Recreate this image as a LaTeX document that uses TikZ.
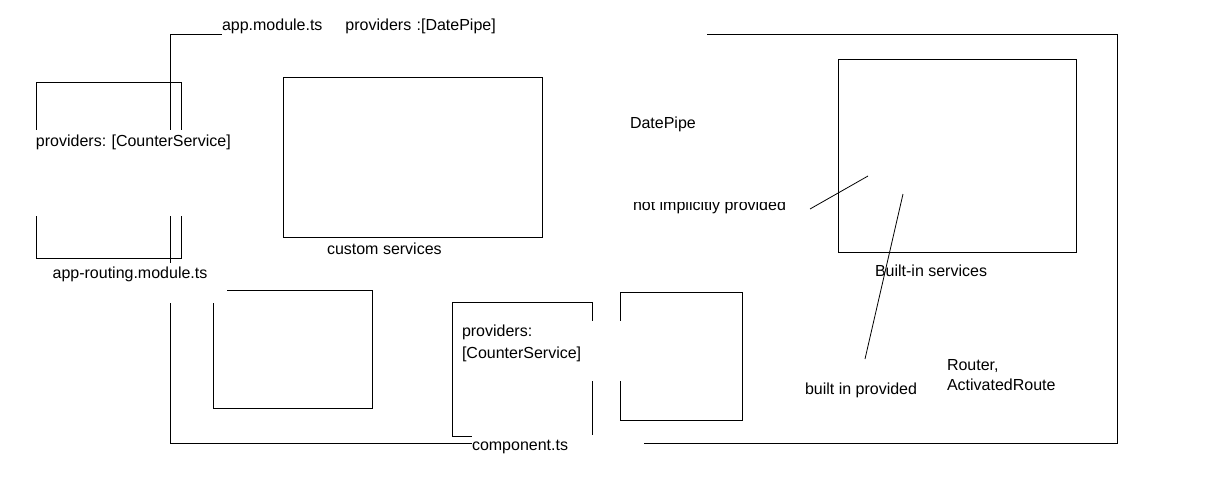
\documentclass[tikz,border=0pt]{standalone}
\usepackage{fontspec}
\setmainfont{Liberation Sans}
\usetikzlibrary{positioning}
\frenchspacing

\begin{document}
\begin{tikzpicture}[x=0.75pt, y=-0.75pt,
                    every node/.style={font=\fontsize{12}{15}\selectfont, outer sep=0pt},
                    box/.style={draw, line width=0.75pt, anchor=north west, inner sep=0pt},
                    txt/.style={inner sep=0pt, anchor=base west},
                    cover/.style={fill=white, inner sep=0pt, anchor=base west},
                    link/.style={line width=0.6pt}]
\useasboundingbox (0,0) rectangle (1214,476);

% frames
\node[box, minimum width=710.25pt, minimum height=307.125pt] (appmod) at (170,34) {};
\node[box, minimum width=108.75pt, minimum height=132pt] (routing) at (36,82) {};
\node[box, minimum width=194.25pt, minimum height=120pt] (custom) at (283,77) {};
\node[box, minimum width=119.25pt, minimum height=88.5pt] (svcbox) at (213,290) {};
\node[box, minimum width=105pt, minimum height=100.5pt] (comp) at (452,302) {};
\node[box, minimum width=91.5pt, minimum height=96pt] (compview) at (620,292) {};
\node[box, minimum width=178.5pt, minimum height=144.75pt] (builtin) at (838,59) {};

% plain labels
\node[txt, below right=4.1pt and 33pt of custom.south west] (customlbl) {custom services};
\node[txt, below right=9.3pt and 27.75pt of builtin.south west] (builtinlbl) {Built-in services};
\node[txt, anchor=north west, align=left] (routerlbl) at (947,359) {Router,\\ActivatedRoute};
\node[txt] (builtprov) at (805,394) {built in provided};
\node[txt] (notprov) at (633,210) {not implicitly provided};

% connectors
\coordinate (np0) at (810,209);
\coordinate (np1) at (868,176);
\coordinate (bp0) at (903,194);
\coordinate (bp1) at (865,359);
\draw[link] (np0) -- (np1);
\draw[link] (bp0) -- (bp1);

% labels with white background
\node[cover, text width=363.75pt, text height=11.25pt, text depth=6.75pt] (appmodlbl) at (222,30)
  {app.module.ts\hspace{17.25pt}providers :[DatePipe]};
\node[cover, inner xsep=2.25pt, text width=150pt, text height=12pt, text depth=52.5pt] (routingprov) at (33,146)
  {providers: [CounterService]};
\node[cover, anchor=base, align=center, text width=145.5pt, text height=11.25pt, text depth=18.75pt] (routinglbl) at (130,278)
  {app-routing.module.ts};
\node[cover, inner xsep=4.5pt, text width=118.5pt, text height=11.25pt, text depth=33.75pt,
      font=\fontsize{12}{16.5}\selectfont] (compprov) at (456,336)
  {providers:\\{}[CounterService]};
\node[cover, text width=129pt, text height=11.25pt, text depth=5.25pt] (complbl) at (472,450) {component.ts};
\node[cover, inner xsep=2.25pt, text width=123.75pt, text height=13.5pt, text depth=55.5pt] (datepipe) at (627,128)
  {DatePipe};

\end{tikzpicture}
\end{document}
